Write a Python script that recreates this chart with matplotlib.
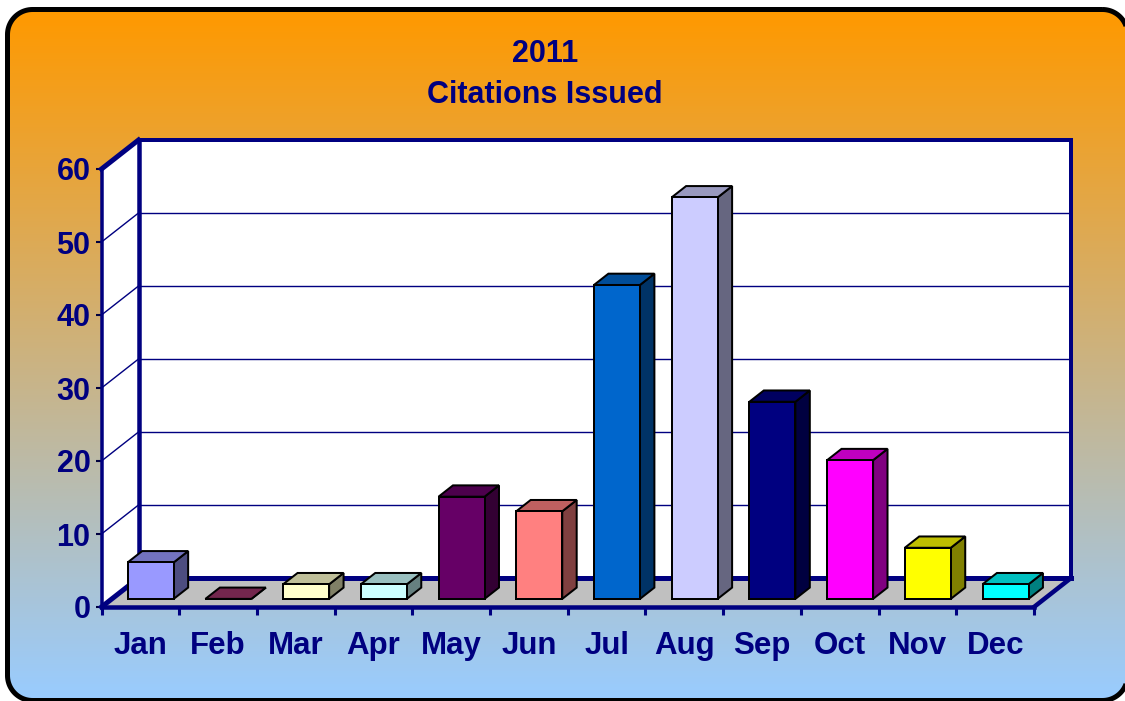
from matplotlib import pyplot as plt
from matplotlib.patches import Polygon
import numpy as np

months = ['Jan', 'Feb', 'Mar', 'Apr', 'May', 'Jun',
          'Jul', 'Aug', 'Sep', 'Oct', 'Nov', 'Dec']
citations = [5, 0, 2, 2, 14, 12, 43, 55, 27, 19, 7, 2]
bar_colors = ['#9999FF', '#993366', '#FFFFCC', '#CCFFFF', '#660066', '#FF8080',
              '#0066CC', '#CCCCFF', '#000080', '#FF00FF', '#FFFF00', '#00FFFF']
y_ticks = [0, 10, 20, 30, 40, 50, 60]
title_lines = ['2011', 'Citations Issued']

W, H = 1125, 701
NAVY = '#000080'
px = 0.72  # line width of one pixel at dpi 100

plt.rcParams['font.family'] = ['Liberation Sans', 'DejaVu Sans']
plt.rcParams['font.weight'] = 'bold'

fig = plt.figure(figsize=(W / 100, H / 100), dpi=100, facecolor='white')


def rounded_outline(left, top, right, bottom, r):
    # corners sampled as plain points
    pts = []
    corners = [(right - r, top + r, -90), (right - r, bottom - r, 0),
               (left + r, bottom - r, 90), (left + r, top + r, 180)]
    for cx, cy, a in corners:
        for ang in np.radians(np.linspace(a, a + 90, 24)):
            pts.append((cx + r * np.cos(ang), cy + r * np.sin(ang)))
    return pts


# background panel, in pixel coordinates
bg = fig.add_axes([0, 0, 1, 1])
panel = Polygon(rounded_outline(7.5, 9.5, 1127.5, 700.5, 25), closed=True,
                fc='none', ec='black', lw=5 * px, zorder=3)
bg.add_patch(panel)
start = np.array([0xFF, 0x99, 0x00]) / 255
end = np.array([0x99, 0xCC, 0xFF]) / 255
t = np.linspace(0, 1, 256)[:, None, None]
grad = start + (end - start) * t
img = bg.imshow(grad, extent=(0, W, 699, 11), aspect='auto', zorder=1)
img.set_clip_path(panel)
bg.set_xlim(0, W)
bg.set_ylim(H, 0)
bg.axis('off')

for line, yp in zip(title_lines, [54, 95]):
    bg.text(545, yp, line, color=NAVY, fontsize=22, ha='center', va='center', zorder=4)

# the chart, front plane of the box is the axes area
x0, x1, y0, y60 = 101.5, 1034, 607, 169
ax = fig.add_axes([x0 / W, (H - y0) / H, (x1 - x0) / W, (y0 - y60) / H])
ax.set_xlim(0, 12)
ax.set_ylim(0, 60)
ax.patch.set_visible(False)
for s in ax.spines.values():
    s.set_visible(False)

depth_x = 37 / ((x1 - x0) / 12)
depth_y = 29 / ((y0 - y60) / 60)


def proj(x, y, d):
    return x + d * depth_x, y + d * depth_y


def face(points, fc, ec='none', lw=0.0, z=2):
    xy = [proj(*p) for p in points]
    ax.add_patch(Polygon(xy, closed=True, fc=fc, ec=ec, lw=lw, joinstyle='miter',
                         clip_on=False, zorder=z))


def edge(p, q, lw, z=3, color=NAVY):
    a, b = proj(*p), proj(*q)
    ax.plot([a[0], b[0]], [a[1], b[1]], color=color, lw=lw * px, clip_on=False,
            solid_capstyle='projecting', zorder=z)


# walls and floor
face([(0, 0, 1), (12, 0, 1), (12, 60, 1), (0, 60, 1)], 'white')
face([(0, 0, 0), (0, 0, 1), (0, 60, 1), (0, 60, 0)], 'white')
face([(0, 0, 0), (12, 0, 0), (12, 0, 1), (0, 0, 1)], '#C0C0C0')

for v in y_ticks[1:-1]:
    edge((0, v, 1), (12, v, 1), 1.4)
    edge((0, v, 0), (0, v, 1), 1.4)

edge((0, 60, 1), (12, 60, 1), 4)
edge((12, 0, 1), (12, 60, 1), 4)
edge((0, 0, 1), (0, 60, 1), 4.5)
edge((0, 60, 0), (0, 60, 1), 5)
edge((0, 0, 0), (0, 60, 0), 3.5)
edge((0, 0, 1), (12, 0, 1), 5)
edge((0, 0, 0), (0, 0, 1), 5)
edge((12, 0, 0), (12, 0, 1), 4.5)
edge((0, 0, 0), (12, 0, 0), 4.5)

# bars
bar_w = 0.592
d_front, d_back = 0.28, 0.67
for i, (v, c) in enumerate(zip(citations, bar_colors)):
    rgb = np.array(plt.matplotlib.colors.to_rgb(c))
    l = i + 0.5 - bar_w / 2
    r = i + 0.5 + bar_w / 2
    black = dict(ec='black', lw=2 * px, z=5)
    face([(r, 0, d_front), (r, 0, d_back), (r, v, d_back), (r, v, d_front)], rgb * 0.5, **black)
    face([(l, v, d_front), (r, v, d_front), (r, v, d_back), (l, v, d_back)], rgb * 0.75, **black)
    face([(l, 0, d_front), (r, 0, d_front), (r, v, d_front), (l, v, d_front)], rgb, **black)

ax.set_yticks(y_ticks)
ax.tick_params(axis='y', length=4, width=1.5, color='#000040', pad=4, labelsize=22,
               labelcolor=NAVY)
ax.set_xticks(range(13), [''] * 13)
ax.tick_params(axis='x', which='major', length=6, width=2.2, color=NAVY)
ax.set_xticks(np.arange(12) + 0.5, months, minor=True)
ax.tick_params(axis='x', which='minor', length=0, pad=17, labelsize=22.5, labelcolor=NAVY)

fig.savefig('out.png', dpi=100)
